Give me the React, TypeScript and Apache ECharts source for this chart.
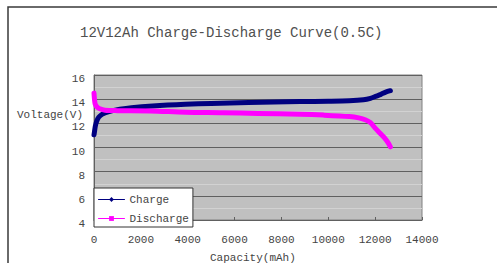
import React, { useEffect, useRef } from "react";
import * as echarts from "echarts";

const titleText = "12V12Ah Charge-Discharge Curve(0.5C)";
const yAxisTitle = "Voltage(V)";
const xAxisTitle = "Capacity(mAh)";
const seriesNames = ["Charge", "Discharge"];

const chargeCapacity = [0, 20, 60, 120, 200, 350, 500, 800, 1100, 1600, 2500, 3900, 5000, 6600, 8800, 10000, 10900, 11500, 11800, 12050, 12250, 12450, 12650];
const chargeVoltage = [11.05, 11.3, 11.8, 12.2, 12.5, 12.75, 12.88, 13.05, 13.17, 13.3, 13.44, 13.58, 13.65, 13.73, 13.8, 13.83, 13.87, 13.95, 14.07, 14.25, 14.4, 14.58, 14.7];

const dischargeCapacity = [0, 20, 50, 120, 250, 470, 1000, 2400, 3900, 5500, 7000, 8800, 9800, 10900, 11300, 11600, 11800, 12000, 12200, 12400, 12550, 12650];
const dischargeVoltage = [14.5, 14.0, 13.6, 13.38, 13.2, 13.08, 13.05, 13.03, 12.92, 12.88, 12.82, 12.75, 12.68, 12.56, 12.45, 12.28, 12.05, 11.6, 11.2, 10.8, 10.4, 10.05];

const FONT = "Liberation Mono";

export default function App() {
  const ref = useRef<HTMLDivElement>(null);
  useEffect(() => {
    if (!ref.current) return;
    const chart = echarts.init(ref.current, null, { renderer: "svg" });
    const zip = (xs: number[], ys: number[]) => xs.map((x, i) => [x, ys[i]]);
    chart.setOption({
      animation: false,
      backgroundColor: "#ffffff",
      title: {
        text: titleText,
        left: 80,
        top: 26,
        padding: 0,
        textStyle: { fontFamily: FONT, fontSize: 14, fontWeight: "normal", color: "#505050" },
      },
      grid: {
        left: 94,
        top: 75,
        right: 75,
        bottom: 43,
        show: true,
        backgroundColor: "#c0c0c0",
        borderColor: "#808080",
        borderWidth: 1,
      },
      legend: {
        orient: "vertical",
        left: 94,
        top: 188,
        padding: [6, 4, 3, 4],
        itemWidth: 26,
        itemHeight: 6,
        itemGap: 8,
        backgroundColor: "#ffffff",
        borderColor: "#333333",
        borderWidth: 1,
        textStyle: { fontFamily: FONT, fontSize: 11, color: "#444" },
        lineStyle: { width: 1 },
        data: [{ name: seriesNames[0] }, { name: seriesNames[1] }],
      },
      xAxis: {
        type: "value",
        min: 0,
        max: 14000,
        interval: 2000,
        axisLine: { show: true, lineStyle: { color: "#606060" } },
        axisTick: { show: true, inside: true, length: 3, lineStyle: { color: "#606060" } },
        axisLabel: {
          fontFamily: FONT,
          fontSize: 11,
          color: "#444",
          margin: 14,
          formatter: (v: number) => String(v),
        },
        splitLine: { show: false },
      },
      yAxis: {
        type: "value",
        min: 4,
        max: 16,
        interval: 2,
        axisLine: { show: true, lineStyle: { color: "#606060" } },
        axisTick: { show: true, inside: true, length: 3, lineStyle: { color: "#606060" } },
        axisLabel: {
          fontFamily: FONT,
          fontSize: 11,
          color: "#444",
          margin: 9,
          verticalAlign: "top",
          lineHeight: 8,
        },
        splitLine: { show: true, lineStyle: { color: "#606060", width: 1 } },
        minorTick: { show: false, splitNumber: 2 },
        minorSplitLine: { show: true, lineStyle: { color: "#d2d2d2", width: 1 } },
      },
      graphic: [
        {
          type: "rect",
          silent: true,
          z: -10,
          shape: { x: 8, y: 7, width: 520, height: 300 },
          style: { fill: "none", stroke: "#3a3a3a", lineWidth: 1.5 },
        },
        {
          type: "text",
          left: 17,
          top: 109,
          style: { text: yAxisTitle, fontFamily: FONT, fontSize: 11, fill: "#444" },
        },
        {
          type: "text",
          left: 210,
          top: 252,
          style: { text: xAxisTitle, fontFamily: FONT, fontSize: 11, fill: "#444" },
        },
      ],
      series: [
        {
          name: seriesNames[0],
          type: "line",
          data: zip(chargeCapacity, chargeVoltage),
          symbol: "diamond",
          symbolSize: 7,
          showSymbol: false,
          smooth: 0.3,
          color: "#000080",
          lineStyle: { width: 5, color: "#000080", cap: "round", join: "round" },
          z: 3,
        },
        {
          name: seriesNames[1],
          type: "line",
          data: zip(dischargeCapacity, dischargeVoltage),
          symbol: "rect",
          symbolSize: 6,
          showSymbol: false,
          smooth: 0.3,
          color: "#ff00ff",
          lineStyle: { width: 5, color: "#ff00ff", cap: "round", join: "round" },
          z: 4,
        },
      ],
    });
    return () => chart.dispose();
  }, []);
  return <div ref={ref} style={{ width: 497, height: 263, position: "absolute", left: 0, top: 0 }} />;
}
